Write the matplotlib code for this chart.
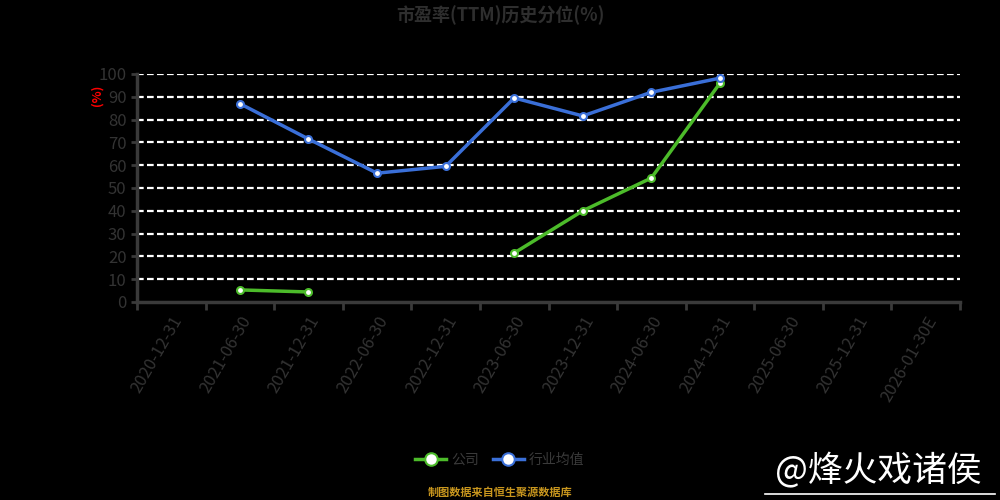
import numpy as np
import matplotlib.pyplot as plt

plt.rcParams['font.family'] = ['Noto Sans CJK SC', 'DejaVu Sans']

dates = ['2020-12-31', '2021-06-30', '2021-12-31', '2022-06-30', '2022-12-31',
         '2023-06-30', '2023-12-31', '2024-06-30', '2024-12-31', '2025-06-30',
         '2025-12-31', '2026-01-30E']
company = [None, 5.3, 4.4, None, None, 21.5, 40.0, 54.4, 96.0, None, None, None]
industry = [None, 87.0, 71.5, 56.5, 59.5, 89.5, 81.6, 92.0, 98.2, None, None, None]

comp = np.array([np.nan if v is None else v for v in company], dtype=float)
ind = np.array([np.nan if v is None else v for v in industry], dtype=float)
x = np.arange(len(dates))

fig = plt.figure(figsize=(10, 5), dpi=100, facecolor='black')
ax = fig.add_axes([0.137, 0.396, 0.823, 0.456], facecolor='black')

ax.plot(x, comp, color='#4cbb2a', lw=2.5, marker='o', ms=5,
        mfc='white', mec='#4cbb2a', mew=1.5, label='公司', zorder=3)
ax.plot(x, ind, color='#3a6fd8', lw=2.5, marker='o', ms=5,
        mfc='white', mec='#3a6fd8', mew=1.5, label='行业均值', zorder=3)

ax.set_xlim(-0.5, len(dates) - 0.5)
ax.set_ylim(0, 100)
ax.set_yticks(range(0, 101, 10))
ax.set_xticks(x)
ax.set_xticklabels(dates, rotation=60, ha='right', rotation_mode='anchor',
                   color='#333333', fontsize=12)
ax.set_xticks(np.arange(-0.5, len(dates)), minor=True)
ax.tick_params(axis='x', which='major', length=0, pad=8)
ax.tick_params(axis='x', which='minor', length=6, color='#3a3a3a', width=2)
ax.tick_params(axis='y', colors='#3a3a3a', labelcolor='#333333', labelsize=12,
               length=4, width=2)

for v in range(10, 101, 10):
    ax.axhline(v, color='white', lw=1.6, ls=(0, (3, 1.5)), zorder=1)

for s in ['top', 'right']:
    ax.spines[s].set_visible(False)
for s in ['left', 'bottom']:
    ax.spines[s].set_color('#3a3a3a')
    ax.spines[s].set_linewidth(2.5)

fig.text(0.097, 0.81, '(%)', color='red', rotation=90, ha='center', va='center',
         fontsize=9, fontweight='bold')

fig.text(0.5, 0.97, '市盈率(TTM)历史分位(%)', color='#2e2e2e', ha='center',
         va='center', fontsize=13, fontweight='bold')

leg = fig.legend(loc='center', bbox_to_anchor=(0.5, 0.08), ncol=2, frameon=False,
                 fontsize=10, handlelength=2.2, columnspacing=1.0, handletextpad=0.4)
for t in leg.get_texts():
    t.set_color('#3a3a3a')
for h in leg.legend_handles:
    h.set_markersize(9)

fig.text(0.5, 0.015, '制图数据来自恒生聚源数据库', color='#c8961e', ha='center',
         va='center', fontsize=8, fontweight='bold')

fig.text(0.878, 0.058, '@烽火戏诸侯', color='white', ha='center', va='center',
         fontsize=25)
fig.add_artist(plt.Line2D([0.765, 0.995], [0.012, 0.012], color='white', lw=1.2))

fig.savefig('out.png', dpi=100, facecolor='black')
